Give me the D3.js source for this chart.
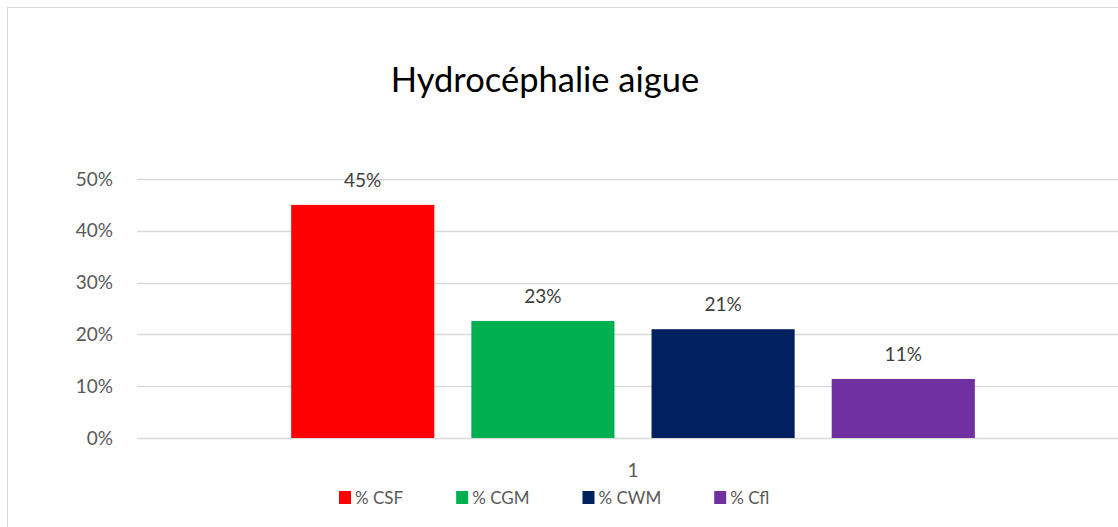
<!DOCTYPE html>
<html>
<head>
<meta charset="utf-8">
<script src="https://cdn.jsdelivr.net/npm/d3@7"></script>
<style>
  body { margin: 0; background: #fff; }
  text { font-family: Lato, "Open Sans", sans-serif; }
</style>
</head>
<body>
<div id="chart"></div>
<script>
const title = 'Hydrocéphalie aigue';
const categories = ['1'];
const series = ['% CSF', '% CGM', '% CWM', '% Cfl'];
const values = [0.45, 0.226, 0.21, 0.114];
const colors = ['#ff0000', '#00b050', '#002060', '#7030a0'];
const yTicks = [0, 0.1, 0.2, 0.3, 0.4, 0.5];

const W = 1118, H = 527;
const plot = { left: 137, right: 1129, top: 179, bottom: 438 };

const svg = d3.select('#chart').append('svg')
    .attr('width', W)
    .attr('height', H);

// chart area border (only top and left visible in the crop)
svg.append('rect')
    .attr('x', 7.5).attr('y', 7.5)
    .attr('width', W + 20).attr('height', H + 20)
    .attr('fill', '#fff')
    .attr('stroke', '#d9d9d9')
    .attr('stroke-width', 1);

const y = d3.scaleLinear().domain([0, 0.5]).range([plot.bottom, plot.top]);
const x0 = d3.scaleBand().domain(categories).range([plot.left, plot.right]).padding(0.184);
const x1 = d3.scaleBand().domain(series).range([0, x0.bandwidth()]).paddingInner(0.2056).paddingOuter(0);
const fmt = d3.format('.0%');

// gridlines
svg.append('g')
    .selectAll('line')
    .data(yTicks)
    .enter().append('line')
    .attr('x1', plot.left).attr('x2', plot.right)
    .attr('y1', d => Math.round(y(d)) + 0.5)
    .attr('y2', d => Math.round(y(d)) + 0.5)
    .attr('stroke', '#d9d9d9')
    .attr('stroke-width', 1.3);

// y axis labels
const yAxis = d3.axisLeft(y).tickValues(yTicks).tickFormat(fmt).tickSize(0).tickPadding(24);
svg.append('g')
    .attr('transform', 'translate(' + plot.left + ',0)')
    .call(yAxis)
    .call(g => g.select('.domain').remove())
    .selectAll('text')
    .attr('fill', '#595959')
    .style('font-size', '19px')
    .style('font-family', 'Lato, sans-serif');

// bars
const group = svg.append('g')
    .attr('transform', 'translate(' + x0(categories[0]) + ',0)');

const bars = series.map((s, i) => ({ name: s, value: values[i], color: colors[i] }));

group.selectAll('rect')
    .data(bars)
    .enter().append('rect')
    .attr('x', d => x1(d.name))
    .attr('y', d => y(d.value))
    .attr('width', x1.bandwidth())
    .attr('height', d => y(0) - y(d.value))
    .attr('fill', d => d.color);

group.selectAll('text.lbl')
    .data(bars)
    .enter().append('text')
    .attr('class', 'lbl')
    .attr('x', d => x1(d.name) + x1.bandwidth() / 2)
    .attr('y', d => y(d.value) - 18)
    .attr('text-anchor', 'middle')
    .attr('fill', '#404040')
    .style('font-size', '19px')
    .text(d => fmt(d.value));

// category label
svg.append('text')
    .attr('x', x0(categories[0]) + x0.bandwidth() / 2)
    .attr('y', 477)
    .attr('text-anchor', 'middle')
    .attr('fill', '#595959')
    .style('font-size', '19px')
    .text(categories[0]);

// title
svg.append('text')
    .attr('x', 545)
    .attr('y', 92)
    .attr('text-anchor', 'middle')
    .attr('fill', '#000')
    .style('font-size', '34.5px')
    .text(title);

// legend
const legend = svg.append('g');
let lx = 339;
series.forEach((s, i) => {
    const item = legend.append('g').attr('transform', 'translate(' + lx + ',0)');
    item.append('rect')
        .attr('x', 0).attr('y', 491)
        .attr('width', 12).attr('height', 13)
        .attr('fill', colors[i]);
    const t = item.append('text')
        .attr('x', 16).attr('y', 504)
        .attr('fill', '#595959')
        .style('font-size', '17px')
        .text(s);
    lx += 16 + t.node().getComputedTextLength() + 53;
});
</script>
</body>
</html>
